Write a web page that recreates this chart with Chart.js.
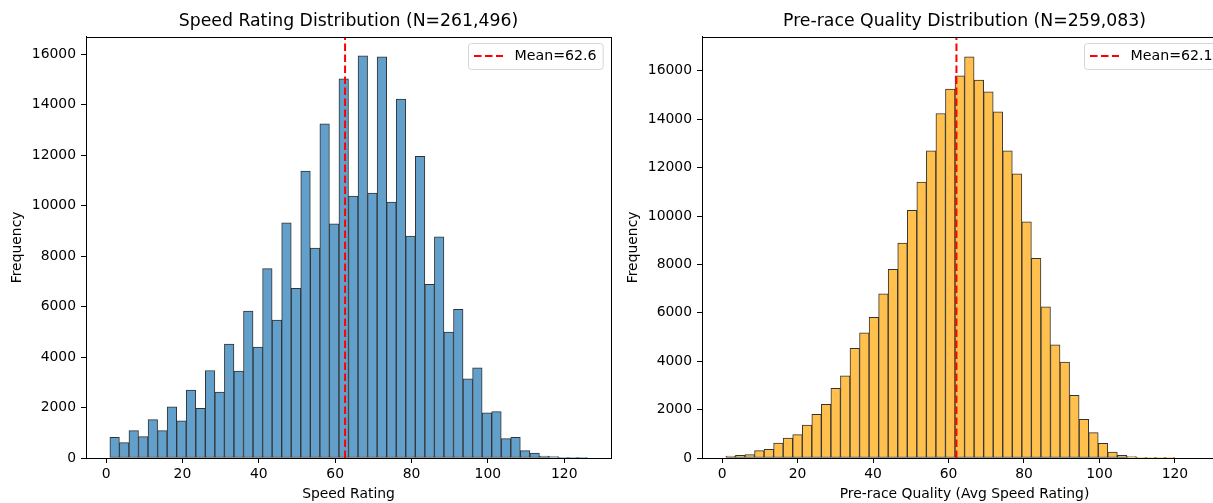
<!DOCTYPE html>
<html>
<head>
<meta charset="utf-8">
<script src="https://cdn.jsdelivr.net/npm/chart.js@4"></script>
<style>
  html, body { margin: 0; padding: 0; background: #fff; overflow: hidden; width: 1213px; height: 503px; }
  canvas { position: absolute; top: 0; }
  #speedChart { left: 0; }
  #qualityChart { left: 616px; }
</style>
</head>
<body>
<canvas id="speedChart" width="620" height="503"></canvas>
<canvas id="qualityChart" width="620" height="503"></canvas>
<script>
// histogram counts (50 bins each)
const speedCounts = [821, 609, 1086, 848, 1523, 1086, 2026, 1470, 2689, 1974,
  3470, 2609, 4517, 3444, 5828, 4397, 7510, 5470, 9325, 6728,
  11377, 8318, 13245, 9285, 15033, 10384, 15947, 10503, 15907, 10146,
  14225, 8795, 11960, 6887, 8768, 4993, 5894, 3139, 3576, 1788,
  1841, 768, 821, 291, 199, 80, 53, 26, 26, 8];
const qualityCounts = [83, 110, 138, 303, 358, 620, 826, 964, 1363, 1804,
  2217, 2878, 3401, 4530, 5177, 5811, 6788, 7793, 8881, 10231,
  11401, 12695, 14237, 15243, 15793, 16578, 15614, 15132, 14306, 12695,
  11745, 9763, 8248, 6251, 4682, 3966, 2589, 1597, 1046, 606,
  248, 110, 55, 28, 28, 14, 5, 0, 0, 0];

// bins
const speedBinStart = 1, speedBinWidth = 2.5;
const qualityBinStart = 1, qualityBinWidth = 2.53;

// means / totals
const speedMean = 62.6, qualityMean = 62.1;
const speedN = '261,496', qualityN = '259,083';

// axis ranges and tick labels
const speedXRange = [-5.25, 132.25], speedYMax = 16700;
const qualityXRange = [-5.33, 133.8], qualityYMax = 17409;
const xTicks = [0, 20, 40, 60, 80, 100, 120];
const yTicks = [0, 2000, 4000, 6000, 8000, 10000, 12000, 14000, 16000];

const FONT = '"DejaVu Sans", sans-serif';

// box round the plot area (matplotlib spines)
const framePlugin = {
  id: 'frame',
  afterDatasetsDraw(chart) {
    const { ctx, chartArea: a } = chart;
    ctx.save();
    ctx.strokeStyle = '#000';
    ctx.lineWidth = 1;
    ctx.strokeRect(Math.round(a.left) + 0.5, Math.round(a.top) + 0.5,
      Math.round(a.right - a.left), Math.round(a.bottom - a.top));
    ctx.restore();
  }
};

// legend box in the upper right corner
const meanLegendPlugin = {
  id: 'meanLegend',
  afterDraw(chart) {
    const ds = chart.data.datasets[0];
    const { ctx, chartArea: a } = chart;
    ctx.save();
    ctx.font = '14.2px ' + FONT;
    const tw = ctx.measureText(ds.label).width;
    const w = 6 + 29 + 11.5 + tw + 6, h = 26;
    const x = Math.round(a.right - 8.3 - w), y = Math.round(a.top + 6.6);
    ctx.beginPath();
    ctx.roundRect(x + 0.5, y + 0.5, w, h, 3);
    ctx.fillStyle = 'rgba(255,255,255,0.8)';
    ctx.fill();
    ctx.strokeStyle = 'rgba(204,204,204,0.8)';
    ctx.lineWidth = 1;
    ctx.stroke();
    // line sample
    ctx.beginPath();
    ctx.setLineDash(ds.borderDash);
    ctx.strokeStyle = ds.borderColor;
    ctx.lineWidth = ds.borderWidth;
    ctx.moveTo(x + 6, y + h / 2);
    ctx.lineTo(x + 35, y + h / 2);
    ctx.stroke();
    ctx.setLineDash([]);
    ctx.fillStyle = '#000';
    ctx.textBaseline = 'middle';
    ctx.fillText(ds.label, x + 6 + 29 + 11.5, y + h / 2 + 0.5);
    ctx.restore();
  }
};

function drawHistogram(canvasId, cfg) {
  const bars = cfg.counts.map((c, i) => ({ x: cfg.binStart + cfg.binWidth * (i + 0.5), y: c }));
  const tickFont = { family: FONT, size: 13.9 };
  const axisGrid = { display: true, drawOnChartArea: false, drawTicks: true, tickLength: 5, color: '#000', tickColor: '#000', offset: false };

  new Chart(document.getElementById(canvasId).getContext('2d'), {
    type: 'bar',
    data: {
      datasets: [
        {
          type: 'line',
          label: 'Mean=' + cfg.mean.toFixed(1),
          data: [{ x: cfg.mean, y: 0 }, { x: cfg.mean, y: cfg.yMax }],
          borderColor: '#ff0000',
          borderWidth: 2,
          borderDash: [7.5, 3.5],
          pointRadius: 0,
          order: 0
        },
        {
          type: 'bar',
          label: cfg.xLabel,
          data: bars,
          backgroundColor: cfg.fill,
          borderColor: '#333333',
          borderWidth: 1,
          borderSkipped: false,
          barPercentage: 1,
          categoryPercentage: 1,
          order: 1
        }
      ]
    },
    options: {
      responsive: false,
      animation: false,
      devicePixelRatio: 1,
      layout: { padding: { left: 0, right: 9, top: 0, bottom: 0 } },
      plugins: {
        legend: { display: false },
        tooltip: { enabled: false },
        title: {
          display: true,
          text: cfg.title,
          fullSize: false,
          color: '#000',
          font: { family: FONT, size: 17.3, weight: 'normal' },
          lineHeight: 1.2,
          padding: { top: 11, bottom: 5 }
        }
      },
      scales: {
        x: {
          type: 'linear',
          min: cfg.xRange[0],
          max: cfg.xRange[1],
          offset: false,
          grid: axisGrid,
          border: { display: true, color: '#000', width: 1 },
          afterBuildTicks: s => { s.ticks = xTicks.map(v => ({ value: v })); },
          ticks: { padding: 3, color: '#000', font: tickFont, maxRotation: 0, autoSkip: false },
          title: { display: true, text: cfg.xLabel, color: '#000', font: tickFont, padding: { top: 0, bottom: 0 } },
          afterFit: s => { s.height = 45; }
        },
        y: {
          type: 'linear',
          min: 0,
          max: cfg.yMax,
          grid: axisGrid,
          border: { display: true, color: '#000', width: 1 },
          afterBuildTicks: s => { s.ticks = yTicks.map(v => ({ value: v })); },
          ticks: { padding: 5, color: '#000', font: tickFont, autoSkip: false, callback: v => String(v) },
          title: { display: true, text: 'Frequency', color: '#000', font: tickFont, padding: { top: 9, bottom: 0 } },
          afterFit: s => { s.width = 86; }
        }
      }
    },
    plugins: [framePlugin, meanLegendPlugin]
  });
}

drawHistogram('speedChart', {
  counts: speedCounts,
  binStart: speedBinStart,
  binWidth: speedBinWidth,
  mean: speedMean,
  xRange: speedXRange,
  yMax: speedYMax,
  fill: '#62a0cb',
  title: 'Speed Rating Distribution (N=' + speedN + ')',
  xLabel: 'Speed Rating'
});

drawHistogram('qualityChart', {
  counts: qualityCounts,
  binStart: qualityBinStart,
  binWidth: qualityBinWidth,
  mean: qualityMean,
  xRange: qualityXRange,
  yMax: qualityYMax,
  fill: '#ffc04d',
  title: 'Pre-race Quality Distribution (N=' + qualityN + ')',
  xLabel: 'Pre-race Quality (Avg Speed Rating)'
});
</script>
</body>
</html>
